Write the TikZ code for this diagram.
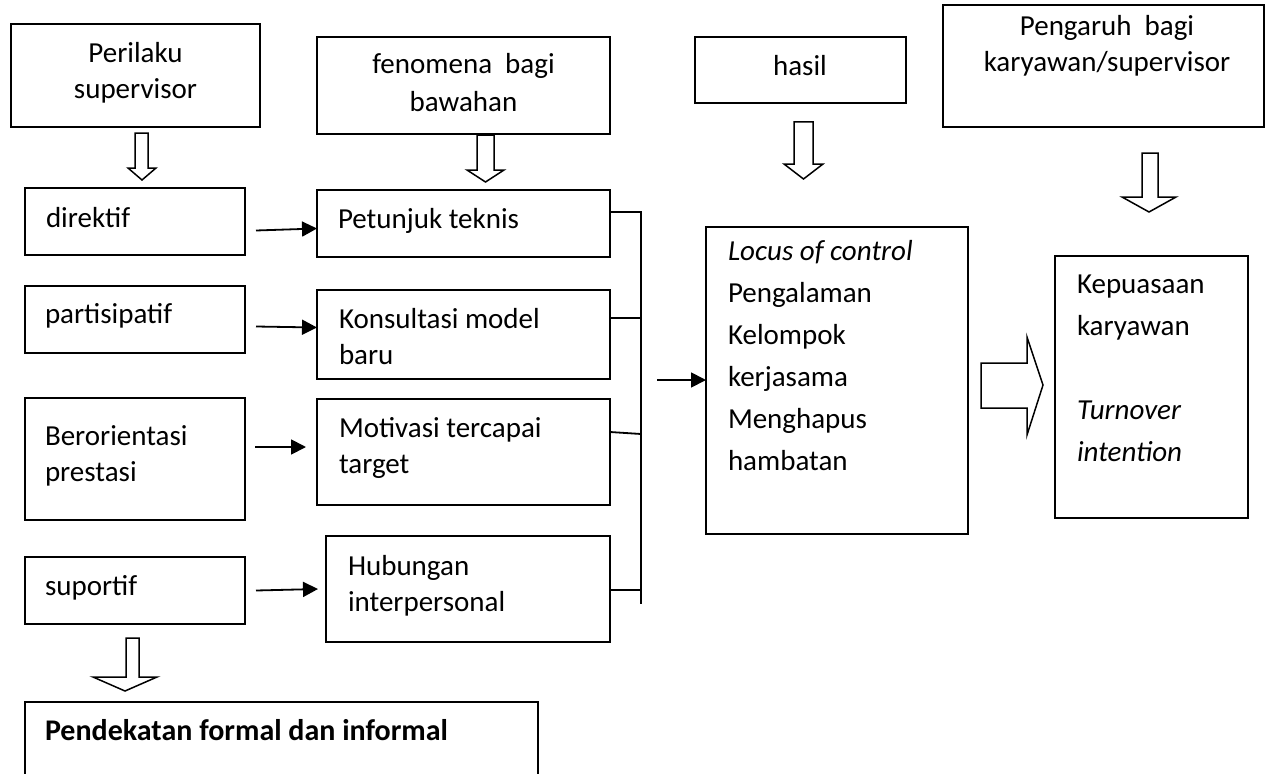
\documentclass[tikz,border=0pt]{standalone}
\usepackage{fontspec}
\setmainfont{Carlito}
\usetikzlibrary{fit,calc,arrows.meta}
\begin{document}
\begin{tikzpicture}[x=1pt,y=-1pt,
  box/.style={draw, line width=1.8pt, inner sep=0pt, outer sep=0pt, rectangle},
  txt/.style={inner sep=0pt, outer sep=0pt, font=\fontsize{29}{36}\selectfont},
  txtl/.style={txt, anchor=base west, align=left},
  txtc/.style={txt, anchor=base, align=center},
  arr/.style={line width=1.8pt, -{Triangle[length=15pt,width=15pt]}},
  blk/.style={draw, line width=1.5pt, line join=miter, fill=white},
  link/.style={line width=1.8pt}]
\clip (0,0) rectangle (1265,773);
\fill[white] (0,0) rectangle (1265,773);

% header boxes (text nodes anchored at the baseline of their last line)
\node[box, fit={(11,24) (260,127)}] (perilaku) {};
\node[box, fit={(317,37) (610,134)}] (fenomena) {};
\node[box, fit={(695,37) (906,103)}] (hasil) {};
\node[box, fit={(943,5) (1264,127)}] (pengaruh) {};
\node[txtc] (perilakuT) at (135.5,99) {Perilaku\\supervisor};
\node[txtc] (fenomenaT) at (463.5,112) {fenomena\ \ bagi\\[2pt]bawahan};
\node[txtc] (hasilT) at (800,76) {hasil};
\node[txtc] (pengaruhT) at (1107,72) {Pengaruh\ \ bagi\\karyawan/supervisor};

% left column
\node[box, fit={(25,188) (245,255)}] (direktif) {};
\node[box, fit={(25,286) (245,353)}] (partisipatif) {};
\node[box, fit={(25,398) (245,520)}] (berorientasi) {};
\node[box, fit={(25,557) (245,624)}] (suportif) {};
\node[txtl] (direktifT) at (46,227) {direktif};
\node[txtl] (partisipatifT) at (45,323) {partisipatif};
\node[txtl] (berorientasiT) at (45,481) {Berorientasi\\prestasi};
\node[txtl] (suportifT) at (45,595) {suportif};

% middle column
\node[box, fit={(317,190) (610,257)}] (petunjuk) {};
\node[box, fit={(317,290) (610,379)}] (konsultasi) {};
\node[box, fit={(317,399) (610,505)}] (motivasi) {};
\node[box, fit={(326,536) (610,642)}] (hubungan) {};
\node[txtl] (petunjukT) at (338,228) {Petunjuk teknis};
\node[txtl] (konsultasiT) at (339,364) {Konsultasi model\\baru};
\node[txtl] (motivasiT) at (339,473) {Motivasi tercapai\\target};
\node[txtl] (hubunganT) at (348,611) {Hubungan\\interpersonal};

% bottom box (runs off the page)
\node[box, fit={(25,702) (538,800)}] (pendekatan) {};
\node[txtl, font=\fontsize{30}{36}\selectfont\bfseries] (pendekatanT) at (45,740) {Pendekatan formal dan informal};

% right boxes
\node[box, fit={(706,227) (968,534)}] (locus) {};
\node[txtl, font=\fontsize{29}{42}\selectfont] (locusT) at (728,470)
  {\textit{Locus of control}\\Pengalaman\\Kelompok\\kerjasama\\Menghapus\\hambatan};
\node[box, fit={(1055,256) (1248,518)}] (kepuasaan) {};
\node[txtl, font=\fontsize{29}{42}\selectfont] (kepuasaanT) at (1077,461)
  {Kepuasaan\\karyawan\\[42pt]\textit{Turnover}\\\textit{intention}};

% small arrows
\draw[arr] ($(direktif.east)+(11,9)$) -- ($(petunjuk.west)+(0,5)$);
\draw[arr] ($(partisipatif.east)+(11,7)$) -- ($(konsultasi.west)+(0,-7)$);
\draw[arr] ($(berorientasi.east)+(10,-12)$) -- ($(motivasi.west)+(-11,-5)$);
\draw[arr] ($(suportif.east)+(11,0)$) -- ($(hubungan.west)+(-8,0)$);

% bracket
\coordinate (bt) at (641,212);
\coordinate (bb) at (641,604);
\draw[link] ($(petunjuk.north east)+(0,22)$) -- (bt) -- (bb);
\draw[link] ($(konsultasi.north east)+(0,28)$) -- ($(konsultasi.north east)+(31,28)$);
\draw[link] ($(motivasi.north east)+(0,33)$) -- ($(motivasi.north east)+(31,35)$);
\draw[link] ($(hubungan.north east)+(0,54)$) -- ($(hubungan.north east)+(31,54)$);
\coordinate (mid) at (657,380);
\draw[arr] (mid) -- (locus.west |- mid);

% block arrows (down)
\draw[blk] (135,133) -- (148,133) -- (148,168) -- (156,168) -- (142,180) -- (128,168) -- (135,168) -- cycle;
\draw[blk] (477,135) -- (494,135) -- (494,170) -- (504,170) -- (485.5,182) -- (467,170) -- (477,170) -- cycle;
\draw[blk] (794,122) -- (813,122) -- (813,164) -- (823,164) -- (803.5,179) -- (784,164) -- (794,164) -- cycle;
\draw[blk] (1142,153) -- (1158,153) -- (1158,197) -- (1176,197) -- (1149,212) -- (1122,197) -- (1142,197) -- cycle;
\draw[blk] (126,638) -- (139,638) -- (139,677) -- (157,677) -- (125,691) -- (93,677) -- (126,677) -- cycle;
% block arrow (right)
\draw[blk] (981,363) -- (1027,363) -- (1027,337) -- (1043,385) -- (1027,435) -- (1027,408) -- (981,408) -- cycle;
\end{tikzpicture}
\end{document}
